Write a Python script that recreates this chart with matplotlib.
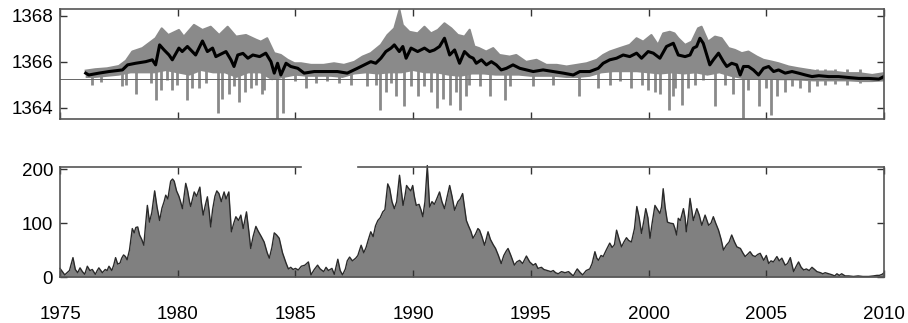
import numpy as np
import matplotlib
matplotlib.use("Agg")
import matplotlib.pyplot as plt

plt.rcParams['font.family'] = ['Liberation Sans', 'DejaVu Sans']

# --- top panel: total solar irradiance (W/m2) ---
# smoothed (black) curve
tsi_year = [1976.09, 1976.22, 1976.65, 1977.08, 1977.65, 1977.87, 1978.21, 1978.64, 1978.92, 1979.06,
            1979.23, 1979.42, 1979.63, 1979.77, 1980.05, 1980.19, 1980.41, 1980.62, 1980.76, 1981.05,
            1981.26, 1981.48, 1981.62, 1981.76, 1982.05, 1982.26, 1982.39, 1982.55, 1982.77, 1982.98,
            1983.19, 1983.48, 1983.74, 1983.96, 1984.10, 1984.24, 1984.38, 1984.60, 1984.80, 1985.10,
            1985.37, 1985.80, 1986.36, 1986.78, 1987.20, 1987.63, 1987.92, 1988.20, 1988.41, 1988.63,
            1988.84, 1989.06, 1989.20, 1989.41, 1989.56, 1989.70, 1989.91, 1990.19, 1990.48, 1990.70,
            1990.90, 1991.12, 1991.33, 1991.55, 1991.76, 1991.97, 1992.18, 1992.40, 1992.55, 1992.68,
            1992.90, 1993.11, 1993.32, 1993.53, 1993.74, 1993.96, 1994.24, 1994.53, 1994.81, 1995.10,
            1995.52, 1995.95, 1996.38, 1996.80, 1997.08, 1997.50, 1997.86, 1998.07, 1998.35, 1998.64,
            1998.92, 1999.20, 1999.49, 1999.70, 1999.98, 2000.20, 2000.48, 2000.76, 2001.05, 2001.26,
            2001.55, 2001.76, 2001.90, 2002.04, 2002.18, 2002.32, 2002.47, 2002.60, 2002.75, 2002.97,
            2003.18, 2003.32, 2003.53, 2003.74, 2003.89, 2004.03, 2004.24, 2004.45, 2004.67, 2004.88,
            2005.10, 2005.31, 2005.52, 2005.80, 2006.09, 2006.37, 2006.66, 2006.94, 2007.23, 2007.65,
            2008.07, 2008.50, 2008.93, 2009.35, 2009.78, 2009.99]
tsi_smooth = [1365.51, 1365.43, 1365.51, 1365.58, 1365.65, 1365.87, 1365.94, 1366.01, 1366.09, 1365.87,
              1366.74, 1366.52, 1366.30, 1366.09, 1366.60, 1366.45, 1366.67, 1366.45, 1366.30, 1366.91,
              1366.45, 1366.60, 1366.23, 1366.30, 1366.45, 1366.09, 1365.80, 1366.30, 1366.37, 1366.16,
              1366.30, 1366.23, 1366.38, 1366.01, 1365.51, 1365.94, 1365.43, 1365.94, 1365.80, 1365.72,
              1365.51, 1365.58, 1365.58, 1365.58, 1365.51, 1365.72, 1365.87, 1366.01, 1365.94, 1366.16,
              1366.45, 1366.60, 1366.74, 1366.45, 1366.67, 1366.16, 1366.60, 1366.45, 1366.60, 1366.45,
              1366.52, 1366.67, 1367.03, 1366.30, 1366.52, 1365.94, 1366.45, 1366.23, 1366.16, 1365.94,
              1366.09, 1365.87, 1366.01, 1365.87, 1365.65, 1365.72, 1365.87, 1365.72, 1365.65, 1365.58,
              1365.65, 1365.58, 1365.51, 1365.43, 1365.58, 1365.58, 1365.72, 1365.94, 1366.09, 1366.16,
              1366.30, 1366.23, 1366.38, 1366.16, 1366.45, 1366.38, 1366.16, 1366.67, 1366.81, 1366.30,
              1366.23, 1366.30, 1366.60, 1366.67, 1367.03, 1366.81, 1366.30, 1365.87, 1366.09, 1366.38,
              1366.01, 1365.80, 1365.94, 1365.87, 1365.43, 1365.80, 1365.80, 1365.65, 1365.43, 1365.72,
              1365.80, 1365.58, 1365.65, 1365.51, 1365.58, 1365.51, 1365.43, 1365.36, 1365.40, 1365.36,
              1365.36, 1365.32, 1365.28, 1365.28, 1365.25, 1365.36]

# daily (grey) data: upper edge of the scatter band
band_up_year = [1976.09, 1976.5, 1977.0, 1977.5, 1977.8, 1978.07, 1978.5, 1979.06, 1979.32, 1979.6,
                1980.05, 1980.26, 1980.69, 1981.05, 1981.4, 1981.76, 1982.12, 1982.48, 1982.9, 1983.34,
                1983.53, 1983.8, 1984.1, 1984.38, 1984.67, 1984.96, 1985.24, 1985.66, 1986.2, 1986.64,
                1987.06, 1987.5, 1987.85, 1988.2, 1988.63, 1988.91, 1989.2, 1989.42, 1989.56, 1989.84,
                1990.19, 1990.48, 1990.76, 1991.05, 1991.33, 1991.62, 1991.9, 1992.18, 1992.4, 1992.6,
                1992.8, 1993.1, 1993.4, 1993.67, 1994.1, 1994.38, 1994.8, 1995.24, 1995.66, 1996.1,
                1996.52, 1996.95, 1997.37, 1997.8, 1998.07, 1998.35, 1998.78, 1999.2, 1999.49, 1999.77,
                2000.12, 2000.4, 2000.62, 2000.9, 2001.1, 2001.26, 2001.55, 2001.83, 2002.1, 2002.25,
                2002.53, 2002.82, 2003.1, 2003.4, 2003.67, 2003.96, 2004.24, 2004.6, 2004.88, 2005.24,
                2005.52, 2005.95, 2006.37, 2006.8, 2007.23, 2007.8, 2008.36, 2008.93, 2009.5, 2010.0]
band_up = [1365.62, 1365.68, 1365.72, 1365.82, 1366.05, 1366.45, 1366.6, 1367.03, 1367.46, 1367.17,
           1367.39, 1367.1, 1367.61, 1367.39, 1367.53, 1367.17, 1367.53, 1367.1, 1367.17, 1366.96,
           1366.88, 1367.03, 1366.38, 1366.3, 1366.09, 1365.94, 1365.94, 1365.87, 1365.87, 1365.94,
           1365.87, 1366.0, 1366.23, 1366.38, 1366.74, 1367.17, 1367.46, 1368.26, 1367.6, 1367.31,
           1367.24, 1367.53, 1367.24, 1367.39, 1367.68, 1367.46, 1367.17, 1367.1, 1367.4, 1366.67,
           1366.6, 1366.45, 1366.6, 1366.3, 1366.23, 1366.3, 1366.0, 1366.09, 1365.87, 1365.87,
           1365.8, 1365.87, 1365.94, 1366.09, 1366.3, 1366.45, 1366.6, 1366.74, 1367.03, 1366.88,
           1367.17, 1366.74, 1367.24, 1367.31, 1367.24, 1367.03, 1366.74, 1366.88, 1367.46, 1367.53,
           1366.88, 1367.1, 1367.03, 1366.6, 1366.52, 1366.38, 1366.45, 1366.23, 1366.09, 1366.01,
           1365.94, 1365.8, 1365.72, 1365.65, 1365.58, 1365.58, 1365.51, 1365.51, 1365.43, 1365.51]

# lower edge of the scatter band
band_lo_year = [1976.09, 1976.5, 1977.0, 1977.5, 1978.0, 1978.5, 1979.0, 1979.5, 1980.0, 1980.5,
                1981.0, 1981.5, 1982.0, 1982.5, 1983.0, 1983.5, 1984.0, 1984.5, 1985.0, 1985.5,
                1986.0, 1986.5, 1987.0, 1987.5, 1988.0, 1988.5, 1989.0, 1989.5, 1990.0, 1990.5,
                1991.0, 1991.5, 1992.0, 1992.5, 1993.0, 1993.5, 1994.0, 1994.5, 1995.0, 1995.5,
                1996.0, 1996.5, 1997.0, 1997.5, 1998.0, 1998.5, 1999.0, 1999.5, 2000.0, 2000.5,
                2001.0, 2001.5, 2002.0, 2002.5, 2003.0, 2003.5, 2004.0, 2004.5, 2005.0, 2005.5,
                2006.0, 2006.5, 2007.0, 2007.5, 2008.0, 2008.5, 2009.0, 2009.5, 2010.0]
band_lo = [1365.3, 1365.3, 1365.35, 1365.4, 1365.5, 1365.5, 1365.5, 1365.6, 1365.5, 1365.4,
           1365.6, 1365.5, 1365.5, 1365.3, 1365.5, 1365.5, 1365.2, 1365.3, 1365.4, 1365.35,
           1365.35, 1365.35, 1365.3, 1365.45, 1365.5, 1365.45, 1365.5, 1365.5, 1365.6, 1365.5,
           1365.5, 1365.4, 1365.35, 1365.45, 1365.45, 1365.4, 1365.4, 1365.4, 1365.35, 1365.35,
           1365.35, 1365.3, 1365.3, 1365.35, 1365.5, 1365.55, 1365.55, 1365.55, 1365.5, 1365.45,
           1365.5, 1365.45, 1365.5, 1365.4, 1365.5, 1365.35, 1365.25, 1365.25, 1365.25, 1365.2,
           1365.2, 1365.18, 1365.15, 1365.15, 1365.15, 1365.15, 1365.12, 1365.12, 1365.15]

# sharp downward dips in the daily data
dip_year = [1976.37, 1976.72, 1977.65, 1977.82, 1978.24, 1978.85, 1979.06, 1979.27, 1979.55, 1979.77,
            1979.98, 1980.41, 1980.62, 1980.90, 1981.19, 1981.72, 1981.90, 1982.19, 1982.40, 1982.62,
            1982.84, 1983.12, 1983.33, 1983.60, 1983.67, 1984.21, 1984.45, 1984.96, 1985.44, 1985.87,
            1986.36, 1986.85, 1987.35, 1988.06, 1988.41, 1988.60, 1988.84, 1989.06, 1989.27, 1989.60,
            1989.91, 1990.19, 1990.48, 1990.76, 1991.02, 1991.26, 1991.55, 1991.83, 1992.01, 1992.25,
            1992.37, 1992.82, 1993.25, 1993.89, 1994.10, 1995.10, 1995.95, 1997.05, 1997.86, 1998.35,
            1998.78, 1999.27, 1999.70, 1999.98, 2000.26, 2000.48, 2000.86, 2001.05, 2001.12, 2001.40,
            2001.69, 2001.97, 2002.33, 2002.80, 2003.25, 2003.60, 2003.99, 2004.24, 2004.69, 2004.99,
            2005.20, 2005.45, 2005.80, 2006.09, 2006.44, 2006.80, 2007.15, 2007.50, 2007.93, 2008.43,
            2009.00]
dip_val = [1365.0, 1365.12, 1364.93, 1365.0, 1364.6, 1365.1, 1364.35, 1364.78, 1365.2, 1364.78,
           1365.0, 1364.35, 1364.85, 1364.85, 1365.1, 1363.77, 1364.4, 1364.6, 1364.93, 1364.27,
           1364.7, 1364.85, 1365.0, 1364.6, 1364.78, 1363.55, 1363.77, 1365.15, 1364.85, 1365.1,
           1365.15, 1365.1, 1365.0, 1364.93, 1365.0, 1363.91, 1364.7, 1365.1, 1364.5, 1364.06,
           1364.93, 1364.5, 1364.93, 1364.7, 1364.0, 1364.4, 1364.13, 1364.7, 1363.9, 1364.5,
           1365.0, 1364.93, 1364.5, 1364.35, 1364.93, 1364.93, 1365.0, 1364.5, 1364.85, 1365.0,
           1365.15, 1364.85, 1365.0, 1364.78, 1364.7, 1364.6, 1363.91, 1364.5, 1364.85, 1364.13,
           1364.85, 1365.0, 1365.2, 1364.06, 1365.0, 1364.6, 1363.55, 1364.78, 1364.06, 1364.85,
           1363.69, 1364.5, 1364.7, 1364.93, 1364.85, 1364.7, 1364.93, 1365.0, 1365.05, 1365.0,
           1365.1]

tsi_ref = 1365.25

# --- bottom panel: monthly sunspot number ---
ss_year = [1975.00, 1975.10, 1975.20, 1975.30, 1975.40, 1975.55, 1975.65, 1975.75, 1975.85, 1975.95,
           1976.05, 1976.16, 1976.27, 1976.37, 1976.50, 1976.58, 1976.65, 1976.80, 1976.92, 1977.00,
           1977.08, 1977.20, 1977.28, 1977.36, 1977.45, 1977.55, 1977.62, 1977.70, 1977.78, 1977.85,
           1977.95, 1978.07, 1978.15, 1978.22, 1978.30, 1978.38, 1978.47, 1978.56, 1978.63, 1978.71,
           1978.80, 1978.90, 1979.02, 1979.12, 1979.23, 1979.33, 1979.42, 1979.49, 1979.58, 1979.70,
           1979.78, 1979.85, 1979.95, 1980.05, 1980.12, 1980.20, 1980.27, 1980.34, 1980.42, 1980.50,
           1980.55, 1980.63, 1980.70, 1980.80, 1980.94, 1981.00, 1981.08, 1981.18, 1981.26, 1981.34,
           1981.40, 1981.48, 1981.58, 1981.66, 1981.75, 1981.85, 1981.97, 1982.05, 1982.17, 1982.28,
           1982.38, 1982.47, 1982.58, 1982.68, 1982.78, 1982.92, 1983.02, 1983.10, 1983.20, 1983.32,
           1983.42, 1983.55, 1983.67, 1983.80, 1983.89, 1984.00, 1984.10, 1984.20, 1984.31, 1984.45,
           1984.60, 1984.70, 1984.80, 1984.90, 1985.00, 1985.12, 1985.25, 1985.40, 1985.55, 1985.66,
           1985.80, 1985.94, 1986.05, 1986.20, 1986.30, 1986.40, 1986.55, 1986.65, 1986.80, 1986.90,
           1987.00, 1987.12, 1987.20, 1987.30, 1987.42, 1987.56, 1987.65, 1987.79, 1987.90, 1988.00,
           1988.10, 1988.20, 1988.30, 1988.40, 1988.50, 1988.60, 1988.71, 1988.80, 1988.92, 1989.00,
           1989.10, 1989.20, 1989.30, 1989.42, 1989.50, 1989.57, 1989.65, 1989.72, 1989.80, 1989.90,
           1989.98, 1990.05, 1990.13, 1990.25, 1990.33, 1990.41, 1990.50, 1990.60, 1990.70, 1990.80,
           1990.90, 1991.00, 1991.12, 1991.22, 1991.33, 1991.45, 1991.55, 1991.65, 1991.76, 1991.90,
           1992.00, 1992.10, 1992.18, 1992.26, 1992.35, 1992.45, 1992.54, 1992.65, 1992.75, 1992.82,
           1992.92, 1993.03, 1993.10, 1993.18, 1993.28, 1993.40, 1993.50, 1993.62, 1993.74, 1993.85,
           1993.95, 1994.03, 1994.15, 1994.30, 1994.40, 1994.52, 1994.65, 1994.81, 1994.95, 1995.10,
           1995.20, 1995.30, 1995.45, 1995.55, 1995.70, 1995.85, 1995.95, 1996.05, 1996.16, 1996.30,
           1996.45, 1996.60, 1996.70, 1996.80, 1996.90, 1996.97, 1997.10, 1997.20, 1997.35, 1997.50,
           1997.60, 1997.72, 1997.80, 1997.87, 1997.98, 1998.07, 1998.20, 1998.35, 1998.45, 1998.55,
           1998.64, 1998.75, 1998.85, 1998.95, 1999.06, 1999.15, 1999.27, 1999.40, 1999.50, 1999.60,
           1999.70, 1999.80, 1999.88, 1999.97, 2000.06, 2000.15, 2000.27, 2000.38, 2000.48, 2000.55,
           2000.62, 2000.70, 2000.80, 2000.92, 2001.05, 2001.12, 2001.19, 2001.26, 2001.35, 2001.48,
           2001.55, 2001.60, 2001.68, 2001.76, 2001.83, 2001.90, 2002.05, 2002.15, 2002.26, 2002.40,
           2002.48, 2002.55, 2002.65, 2002.75, 2002.85, 2002.97, 2003.08, 2003.18, 2003.30, 2003.42,
           2003.53, 2003.65, 2003.75, 2003.90, 2004.00, 2004.10, 2004.20, 2004.31, 2004.42, 2004.53,
           2004.64, 2004.74, 2004.89, 2005.00, 2005.10, 2005.20, 2005.30, 2005.45, 2005.55, 2005.66,
           2005.80, 2005.90, 2006.02, 2006.16, 2006.27, 2006.37, 2006.48, 2006.59, 2006.70, 2006.82,
           2006.94, 2007.05, 2007.15, 2007.30, 2007.40, 2007.50, 2007.65, 2007.80, 2007.90, 2008.00,
           2008.10, 2008.20, 2008.35, 2008.50, 2008.70, 2008.90, 2009.10, 2009.35, 2009.55, 2009.70,
           2009.80, 2009.92, 2010.00]
ss_val = [16, 10, 4, 8, 12, 36, 14, 8, 17, 10,
          5, 20, 12, 14, 5, 12, 17, 8, 14, 12,
          20, 12, 22, 36, 24, 26, 35, 41, 38, 32,
          50, 90, 82, 92, 93, 78, 70, 59, 95, 133,
          102, 120, 160, 130, 105, 128, 140, 152, 145, 178,
          182, 178, 160, 150, 140, 127, 150, 174, 160, 140,
          131, 145, 158, 150, 167, 140, 115, 135, 149, 120,
          93, 125, 150, 160, 155, 140, 158, 145, 158, 84,
          100, 112, 105, 115, 90, 121, 85, 53, 75, 94,
          85, 75, 65, 45, 35, 55, 82, 78, 72, 45,
          26, 15, 18, 14, 16, 13, 20, 22, 28, 4,
          14, 22, 15, 10, 18, 12, 16, 5, 33, 12,
          4, 15, 30, 37, 30, 35, 40, 59, 45, 55,
          70, 84, 75, 95, 105, 110, 121, 125, 173, 165,
          140, 127, 140, 189, 160, 133, 150, 170, 165, 160,
          170, 150, 133, 135, 125, 112, 140, 207, 130, 140,
          135, 145, 158, 140, 127, 150, 170, 150, 124, 140,
          145, 155, 130, 105, 95, 85, 72, 80, 90, 87,
          75, 59, 70, 84, 70, 60, 53, 40, 25, 40,
          48, 53, 40, 22, 28, 31, 25, 39, 28, 22,
          25, 16, 18, 14, 12, 10, 12, 8, 6, 10,
          8, 10, 6, 2, 10, 15, 8, 4, 12, 15,
          25, 47, 35, 31, 40, 38, 50, 63, 55, 60,
          87, 70, 56, 65, 73, 68, 65, 90, 131, 110,
          81, 105, 127, 110, 72, 100, 133, 125, 118, 130,
          164, 130, 102, 100, 99, 90, 78, 109, 105, 127,
          110, 84, 110, 146, 125, 105, 127, 115, 96, 115,
          105, 96, 100, 112, 100, 87, 70, 50, 59, 65,
          78, 65, 56, 53, 45, 38, 42, 47, 40, 38,
          42, 44, 31, 40, 25, 30, 28, 38, 30, 35,
          22, 25, 36, 10, 20, 28, 18, 13, 15, 12,
          18, 14, 10, 8, 6, 8, 6, 4, 2, 6,
          3, 6, 2, 2, 1, 2, 1, 1, 2, 3,
          3, 5, 8]

years = [1975, 1980, 1985, 1990, 1995, 2000, 2005, 2010]
grey = '#8a8a8a'
frame = '#555555'

fig = plt.figure(figsize=(9.08, 3.23), dpi=100)
ax1 = fig.add_axes([0.0661, 0.632, 0.9075, 0.340])
ax2 = fig.add_axes([0.0661, 0.1424, 0.9075, 0.340])

# top panel
ax1.fill(np.r_[band_up_year, band_lo_year[::-1]], np.r_[band_up, band_lo[::-1]],
         color=grey, lw=0)
ax1.plot(band_up_year, band_up, color=grey, lw=1.5)
ax1.vlines(dip_year, dip_val, 1365.7, color=grey, lw=2)
ax1.axhline(tsi_ref, color='#666666', lw=0.7)
ax1.plot(tsi_year, tsi_smooth, color='black', lw=2.2)
ax1.set_xlim(1975, 2010)
ax1.set_ylim(1363.52, 1368.3)
ax1.set_yticks([1364, 1366, 1368])
ax1.set_xticks(years)
ax1.set_xticklabels([])

# bottom panel
ax2.fill_between(ss_year, ss_val, color='#808080', lw=0)
ax2.plot(ss_year, ss_val, color='#2a2a2a', lw=1, clip_on=False)
ax2.set_xlim(1975, 2010)
ax2.set_ylim(0, 204)
ax2.set_yticks([0, 100, 200])
ax2.set_xticks(years)
# top frame line of the lower panel is broken in the original
ax2.spines['top'].set_visible(False)
ax2.plot([1975, 1985.25], [1, 1], color=frame, lw=1.2,
         transform=ax2.get_xaxis_transform(), clip_on=False)
ax2.plot([1987.65, 2010], [1, 1], color=frame, lw=1.2,
         transform=ax2.get_xaxis_transform(), clip_on=False)

for ax in (ax1, ax2):
    for s in ax.spines.values():
        s.set_color(frame)
        s.set_linewidth(1.2)
    ax.tick_params(direction='in', top=True, right=True, length=5, width=1,
                   color='#333333', labelsize=13.5, pad=5)
ax2.tick_params(axis='x', pad=21)

fig.savefig('out.png', dpi=100)
